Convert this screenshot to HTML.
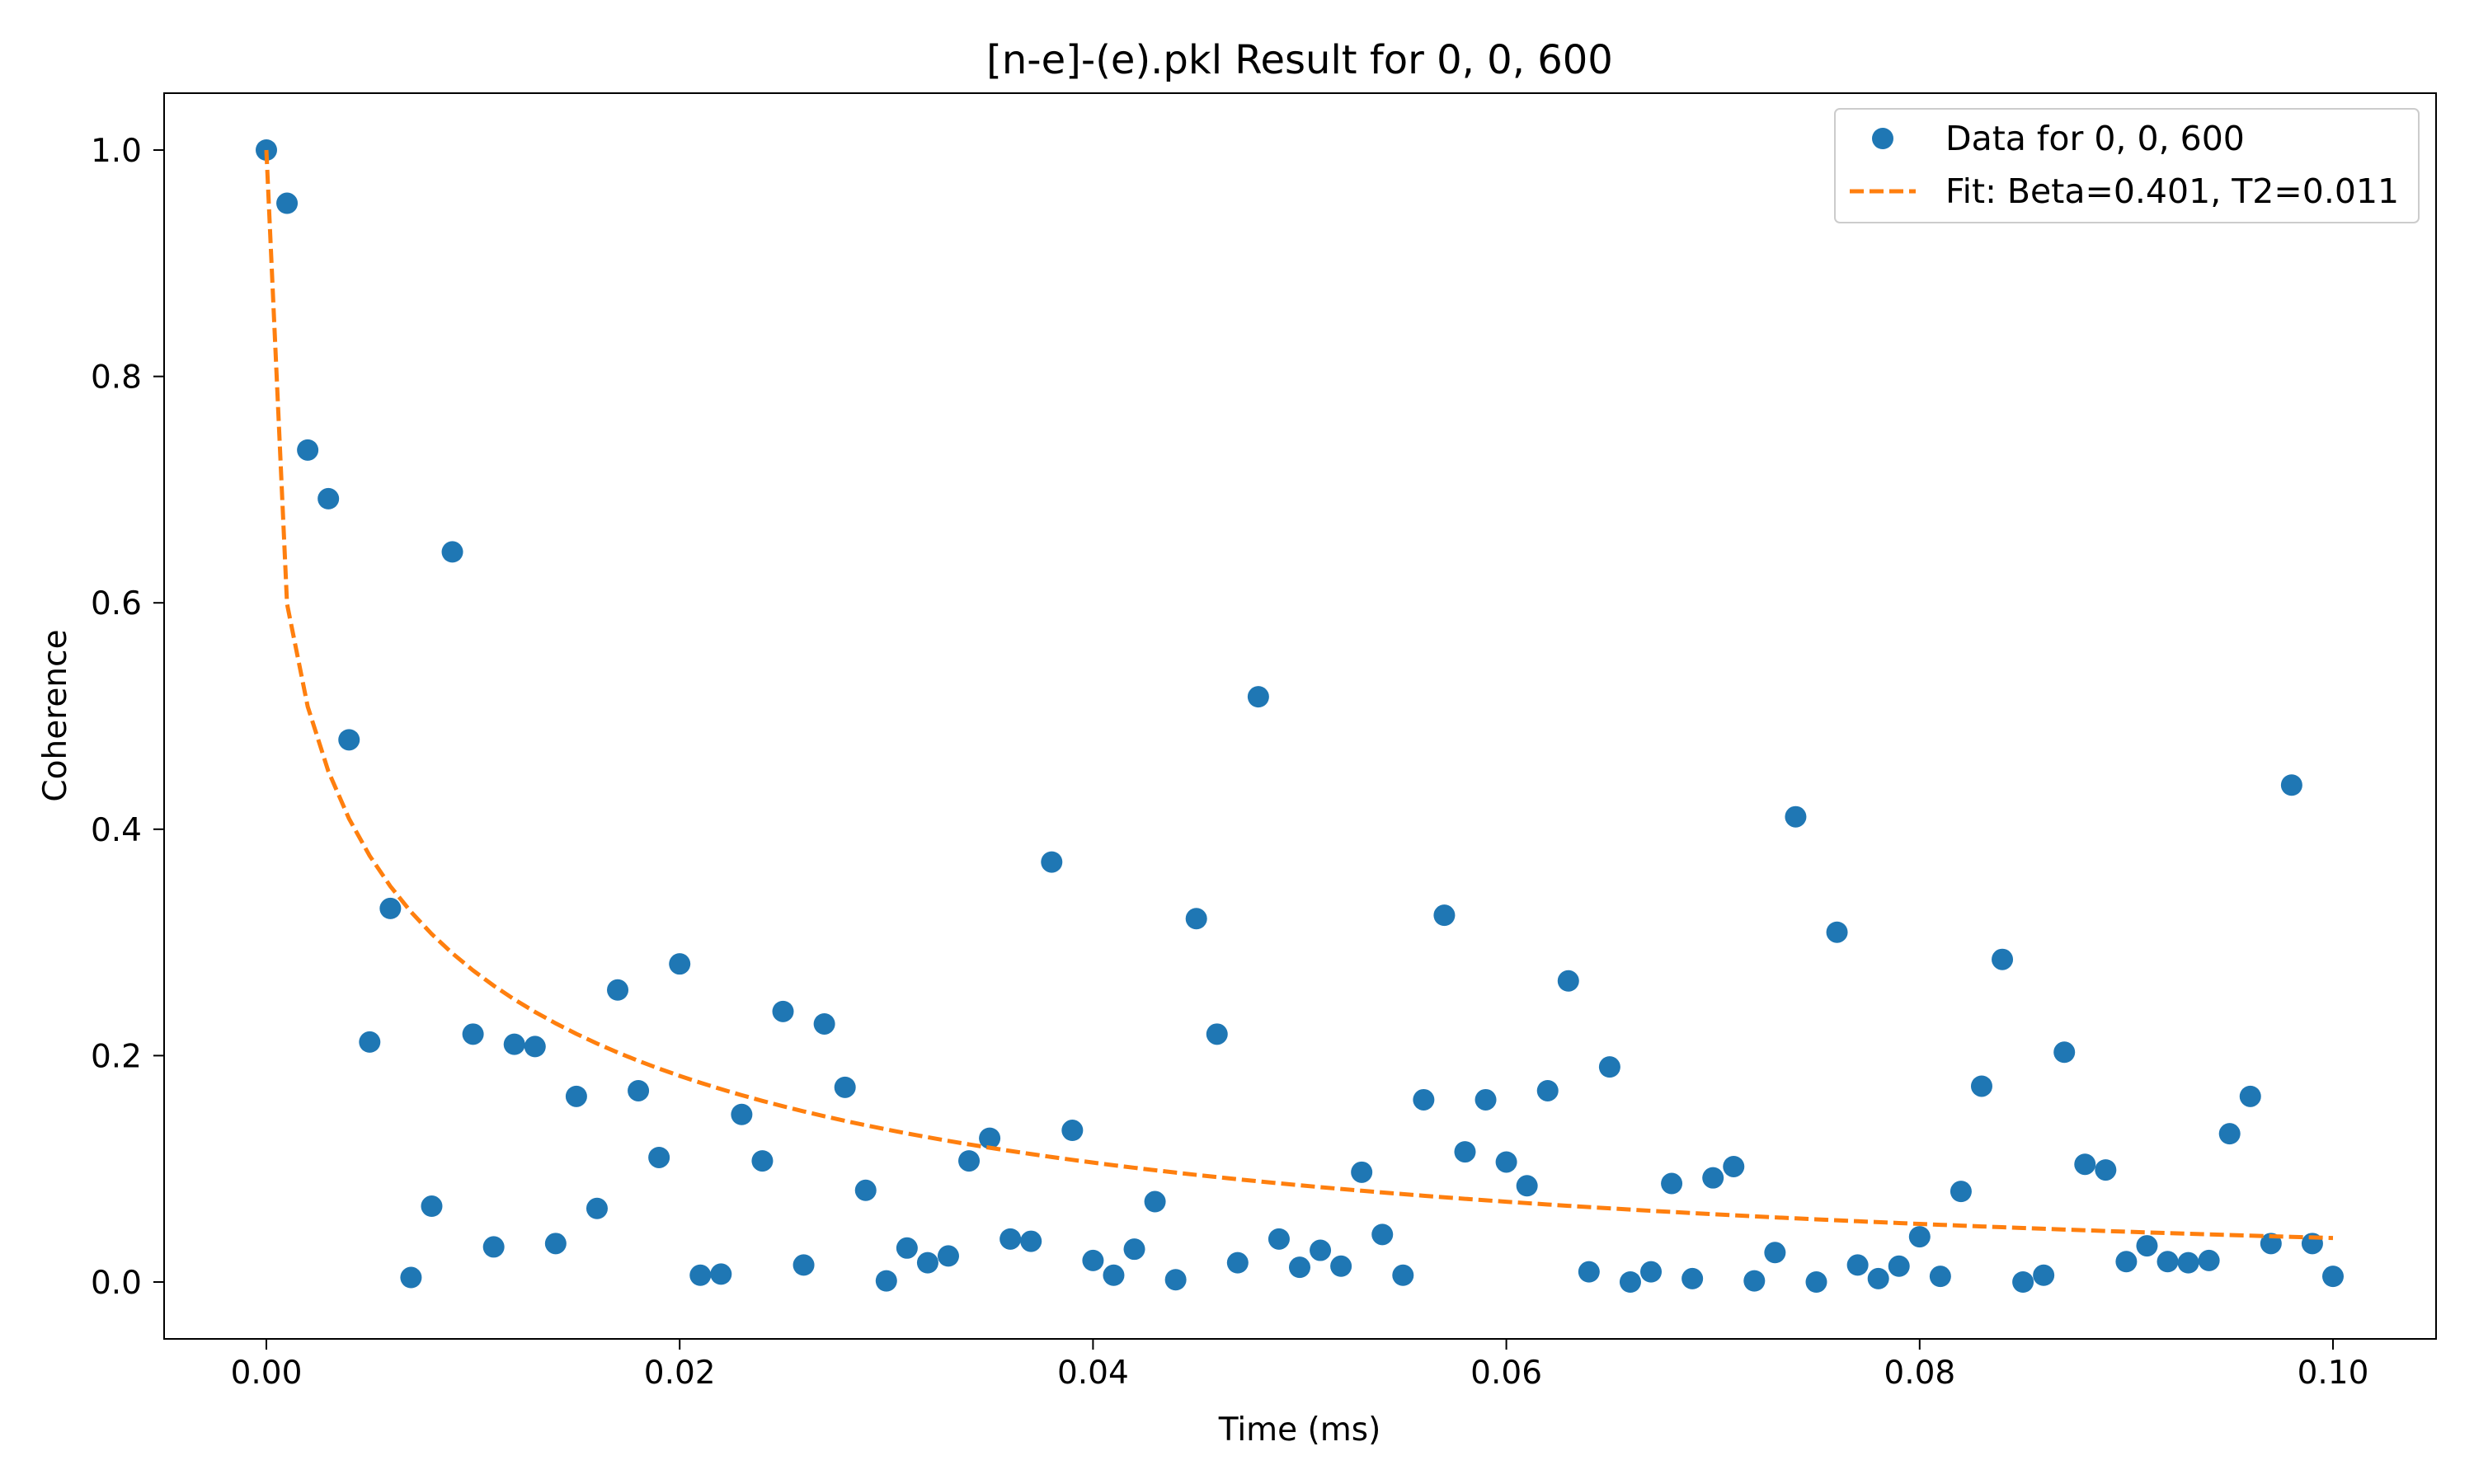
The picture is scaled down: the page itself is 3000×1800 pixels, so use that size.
<!DOCTYPE html>
<html><head><meta charset="utf-8"><style>
html,body{margin:0;padding:0;background:#fff}
svg{display:block;font-family:"DejaVu Sans","Liberation Sans",sans-serif}
</style></head><body>
<svg id="chart" width="3000" height="1800" viewBox="0 0 3000 1800" xmlns="http://www.w3.org/2000/svg">
<rect width="3000" height="1800" fill="#fff"/>
<text x="1576" y="89" font-size="48" text-anchor="middle">[n-e]-(e).pkl Result for 0, 0, 600</text>
<g id="plot"></g>
<rect x="199" y="113" width="2755" height="1511" fill="none" stroke="#000" stroke-width="2"/>
<text x="1576" y="1747" font-size="39" text-anchor="middle">Time (ms)</text>
<text x="80" y="868" font-size="39" text-anchor="middle" transform="rotate(-90 80 868)">Coherence</text>
<g>
<rect x="2225" y="132" width="708" height="138" rx="6" fill="#fff" stroke="#ccc" stroke-width="2"/>
<circle cx="2283" cy="168" r="13" fill="#1f77b4"/>
<text x="2359" y="182" font-size="41">Data for 0, 0, 600</text>
<line x1="2243" y1="232" x2="2323" y2="232" stroke="#ff7f0e" stroke-width="5" stroke-dasharray="17,7"/>
<text x="2359" y="246" font-size="41">Fit: Beta=0.401, T2=0.011</text>
</g>
</svg>
<script>
const yValues=[1.0,0.953,0.735,0.692,0.479,0.212,0.330,0.004,0.067,0.645,0.219,0.031,0.210,0.208,0.034,0.164,0.065,0.258,0.169,0.110,0.281,0.006,0.007,0.148,0.107,0.239,0.015,0.228,0.172,0.081,0.001,0.030,0.017,0.023,0.107,0.127,0.038,0.036,0.371,0.134,0.019,0.006,0.029,0.071,0.002,0.321,0.219,0.017,0.517,0.038,0.013,0.028,0.014,0.097,0.042,0.006,0.161,0.324,0.115,0.161,0.106,0.085,0.169,0.266,0.009,0.190,0.000,0.009,0.087,0.003,0.092,0.102,0.001,0.026,0.411,0.000,0.309,0.015,0.003,0.014,0.040,0.005,0.080,0.173,0.285,0.000,0.006,0.203,0.104,0.099,0.018,0.032,0.018,0.017,0.019,0.131,0.164,0.034,0.439,0.034,0.005];
const tStep=0.001;
const fitBeta=0.401;
const fitT2=0.0053;
const xTicks=[0,0.02,0.04,0.06,0.08,0.10];
const xTickLabels=["0.00","0.02","0.04","0.06","0.08","0.10"];
const yTicks=[0,0.2,0.4,0.6,0.8,1.0];
const yTickLabels=["0.0","0.2","0.4","0.6","0.8","1.0"];
const NS="http://www.w3.org/2000/svg";
const X0=323,X1=2829,Y0=1555,Y1=182;
const sx=v=>X0+(v-0)/(0.1)*(X1-X0);
const sy=v=>Y0+(v-0)/(1.0)*(Y1-Y0);
const g=document.getElementById('plot');
function mk(tag,attrs){const e=document.createElementNS(NS,tag);for(const k in attrs)e.setAttribute(k,attrs[k]);g.appendChild(e);return e;}
xTicks.forEach((v,i)=>{
 const t=mk('line',{x1:sx(v),x2:sx(v),y1:1624,y2:1637,stroke:'#000','stroke-width':2});
 
 
 const l=mk('text',{x:sx(v),y:1678,'font-size':39,'text-anchor':'middle'});
 
 
 l.textContent=xTickLabels[i];
});
yTicks.forEach((v,i)=>{
 const t=mk('line',{x1:186,x2:199,y1:sy(v),y2:sy(v),stroke:'#000','stroke-width':2});
 
 
 const l=mk('text',{x:172,y:sy(v)+14,'font-size':39,'text-anchor':'end'});
 
 
 l.textContent=yTickLabels[i];
});
yValues.forEach((v,i)=>{
 const c=mk('circle',{cx:sx(i*tStep),cy:sy(v),r:13,fill:'#1f77b4'});
 
 
});
const pts=yValues.map((_,i)=>{const t=i*tStep;const f=Math.exp(-Math.pow(t/fitT2,fitBeta));return sx(t)+','+sy(f);}).join(' ');
const fl=mk('polyline',{points:pts,fill:'none',stroke:'#ff7f0e','stroke-width':5,'stroke-dasharray':'17,7'});


</script>
</body></html>
